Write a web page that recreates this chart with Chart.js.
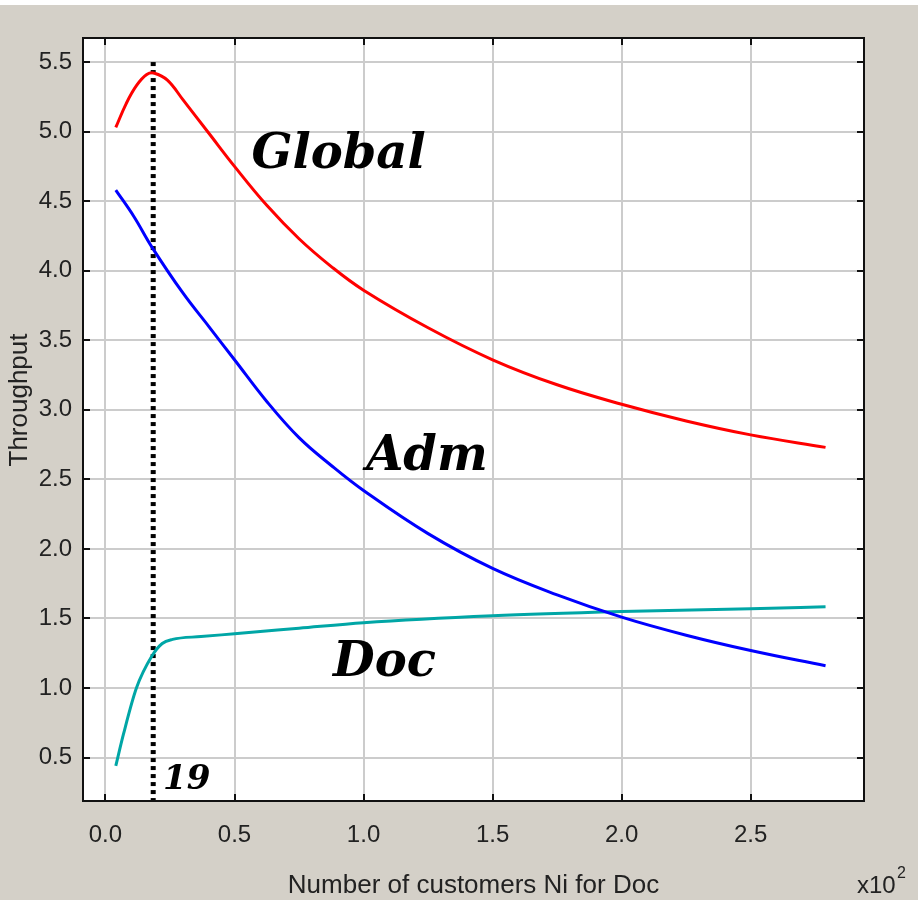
<!DOCTYPE html>
<html>
<head>
<meta charset="utf-8">
<script src="https://cdn.jsdelivr.net/npm/chart.js@4"></script>
<style>
  html, body { margin: 0; padding: 0; background: #fff; }
  canvas { display: block; }
</style>
</head>
<body>
<canvas id="chart" width="918" height="904"></canvas>
<script>
// number of customers for Doc (in hundreds)
const globalX = [0.04, 0.08, 0.12, 0.16, 0.19, 0.24, 0.30, 0.40, 0.50, 0.625, 0.75, 0.875, 1.00, 1.25, 1.50, 1.75, 2.00, 2.25, 2.50, 2.79];
const globalY = [5.03, 5.20, 5.33, 5.41, 5.42, 5.37, 5.23, 4.99, 4.75, 4.47, 4.23, 4.03, 3.86, 3.59, 3.36, 3.18, 3.04, 2.92, 2.82, 2.73];

const admX = [0.04, 0.11, 0.18, 0.30, 0.40, 0.50, 0.625, 0.75, 0.875, 1.00, 1.25, 1.50, 1.75, 2.00, 2.25, 2.50, 2.79];
const admY = [4.58, 4.39, 4.17, 3.84, 3.60, 3.36, 3.06, 2.80, 2.60, 2.42, 2.11, 1.86, 1.67, 1.51, 1.38, 1.27, 1.16];

const docX = [0.04, 0.07, 0.12, 0.18, 0.22, 0.26, 0.37, 0.50, 0.75, 1.00, 1.50, 2.00, 2.50, 2.79];
const docY = [0.44, 0.67, 1.00, 1.23, 1.32, 1.35, 1.37, 1.39, 1.43, 1.47, 1.52, 1.55, 1.57, 1.585];

// the optimum at 19 customers
const markerX = 0.185;
const markerTop = 5.5;

const xMin = -0.087, xMax = 2.939;
const yMin = 0.188, yMax = 5.673;
const xStep = 0.5, yStep = 0.5;

const seriesNames = ['Global', 'Adm', 'Doc'];
const seriesColors = ['#ff0000', '#0000ff', '#00a6a6'];

// text placed on the plot, anchored in data units (left, baseline)
const notes = [
    {text: 'Global', x: 0.566, y: 4.74, size: 48},
    {text: 'Adm', x: 1.01, y: 2.565, size: 48},
    {text: 'Doc', x: 0.882, y: 1.09, size: 48},
    {text: '19', x: 0.223, y: 0.277, size: 34}
];

const pairs = (xs, ys) => xs.map((x, i) => ({x: x, y: ys[i]}));

const framePlugin = {
    id: 'frame',
    beforeDraw(chart) {
        const ctx = chart.ctx, a = chart.chartArea;
        ctx.save();
        ctx.fillStyle = '#ffffff';
        ctx.fillRect(0, 0, chart.width, chart.height);
        ctx.fillStyle = '#d4d0c8';
        ctx.fillRect(0, 5, chart.width, 895);
        ctx.fillStyle = '#ffffff';
        ctx.fillRect(a.left, a.top, a.right - a.left, a.bottom - a.top);
        ctx.restore();
    },
    afterDraw(chart) {
        const ctx = chart.ctx, a = chart.chartArea;
        const xs = chart.scales.x, ys = chart.scales.y;
        ctx.save();

        // notes on the plot
        ctx.fillStyle = '#000';
        ctx.textAlign = 'left';
        ctx.textBaseline = 'alphabetic';
        notes.forEach(n => {
            ctx.font = 'bold italic ' + n.size + 'px "DejaVu Serif"';
            ctx.fillText(n.text, xs.getPixelForValue(n.x), ys.getPixelForValue(n.y));
        });

        // box and inward ticks
        ctx.strokeStyle = '#111';
        ctx.lineWidth = 2;
        ctx.strokeRect(a.left, a.top, a.right - a.left, a.bottom - a.top);
        ctx.beginPath();
        xs.ticks.forEach(t => {
            const px = Math.round(xs.getPixelForValue(t.value));
            ctx.moveTo(px, a.bottom); ctx.lineTo(px, a.bottom - 7);
            ctx.moveTo(px, a.top); ctx.lineTo(px, a.top + 7);
        });
        ys.ticks.forEach(t => {
            const py = Math.round(ys.getPixelForValue(t.value));
            ctx.moveTo(a.left, py); ctx.lineTo(a.left + 7, py);
            ctx.moveTo(a.right, py); ctx.lineTo(a.right - 7, py);
        });
        ctx.stroke();

        // axis titles
        ctx.fillStyle = '#222';
        ctx.font = '26px "Liberation Sans"';
        ctx.textAlign = 'center';
        ctx.fillText('Number of customers Ni for Doc', (a.left + a.right) / 2, 893);

        ctx.textAlign = 'left';
        ctx.font = '24px "Liberation Sans"';
        ctx.fillText('x10', 857, 893);
        ctx.font = '16px "Liberation Sans"';
        ctx.fillText('2', 897, 878);

        ctx.translate(20, 400);
        ctx.rotate(-Math.PI / 2);
        ctx.textAlign = 'center';
        ctx.textBaseline = 'middle';
        ctx.font = '26px "Liberation Sans"';
        ctx.fillText('Throughput', 0, 0);
        ctx.restore();
    }
};

const lineSet = (i, xs, ys, mode) => ({
    label: seriesNames[i],
    data: pairs(xs, ys),
    borderColor: seriesColors[i],
    borderWidth: 3,
    pointRadius: 0,
    tension: 0.4,
    cubicInterpolationMode: mode,
    fill: false
});

new Chart(document.getElementById('chart'), {
    type: 'line',
    data: {
        datasets: [
            lineSet(0, globalX, globalY, 'default'),
            lineSet(1, admX, admY, 'default'),
            lineSet(2, docX, docY, 'monotone'),
            {
                label: '19',
                data: [{x: markerX, y: markerTop}, {x: markerX, y: yMin}],
                borderColor: '#000',
                borderWidth: 5,
                borderDash: [4, 4],
                borderCapStyle: 'butt',
                pointRadius: 0,
                fill: false
            }
        ]
    },
    options: {
        responsive: false,
        animation: false,
        devicePixelRatio: 1,
        layout: {padding: {left: 0, top: 38, right: 54, bottom: 0}},
        plugins: {legend: {display: false}, tooltip: {enabled: false}},
        scales: {
            x: {
                type: 'linear',
                min: xMin,
                max: xMax,
                afterFit: s => { s.height = 103; },
                border: {display: false},
                grid: {color: '#cccccc', lineWidth: 2, drawTicks: false},
                ticks: {
                    stepSize: xStep,
                    includeBounds: false,
                    autoSkip: false,
                    maxRotation: 0,
                    padding: 20,
                    color: '#222',
                    font: {family: 'Liberation Sans', size: 24},
                    callback: v => v.toFixed(1)
                }
            },
            y: {
                type: 'linear',
                min: yMin,
                max: yMax,
                afterFit: s => { s.width = 83; },
                border: {display: false},
                grid: {color: '#cccccc', lineWidth: 2, drawTicks: false},
                ticks: {
                    stepSize: yStep,
                    includeBounds: false,
                    autoSkip: false,
                    padding: 11,
                    color: '#222',
                    font: {family: 'Liberation Sans', size: 24},
                    callback: v => v.toFixed(1)
                }
            }
        }
    },
    plugins: [framePlugin]
});
</script>
</body>
</html>
